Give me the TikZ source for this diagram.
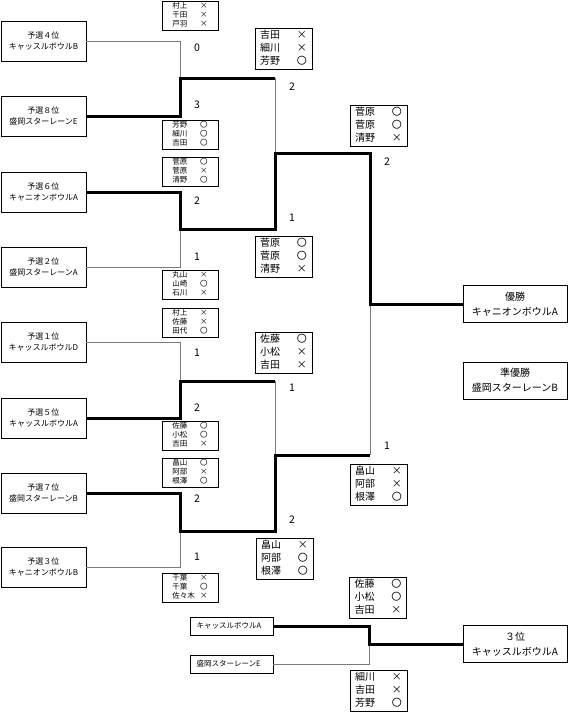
\documentclass[tikz,border=0pt]{standalone}
\usepackage{fontspec}
\setmainfont{Noto Sans CJK JP}
\usetikzlibrary{positioning, calc}
\definecolor{line-gray}{HTML}{7A7A7A}

\newcommand{\members}[6]{%
  \begin{tabular}{@{}p{3em}@{\hspace{0.7em}}c@{}}#1&#2\\#3&#4\\#5&#6\end{tabular}}

\tikzset{
  teambox/.style={draw, line width=0.8pt, minimum width=85pt, minimum height=40pt,
                  align=center, inner sep=1pt, font=\fontsize{8}{11}\selectfont},
  smallbox/.style={draw, line width=0.7pt, minimum width=56pt, minimum height=28pt,
                   inner sep=1pt, font=\fontsize{7.5}{9}\selectfont},
  bigbox/.style={draw, line width=0.8pt, minimum width=57pt, minimum height=40pt,
                 inner sep=1pt, font=\fontsize{10}{13}\selectfont},
  resultbox/.style={draw, line width=0.8pt, minimum width=104pt, minimum height=37pt,
                    align=center, inner sep=1pt, font=\fontsize{10}{15}\selectfont},
  thirdbox/.style={draw, line width=0.8pt, minimum width=83pt, minimum height=18pt,
                   text width=70pt, align=left, inner sep=1pt, font=\fontsize{7.5}{9}\selectfont},
  score/.style={font=\fontsize{10.5}{12}\selectfont},
  lose/.style={draw=line-gray, line width=0.9pt},
  win/.style={draw=black, line width=3pt},
}

\begin{document}
\begin{tikzpicture}[x=1pt, y=-1pt]
  \useasboundingbox (0,0) rectangle (568,712);

  % qualifying teams
  \node[teambox] (t4) at (43.5,41)  {予選４位\\キャッスルボウルB};
  \node[teambox] (t8) at (43.5,116) {予選８位\\盛岡スターレーンE};
  \node[teambox] (t6) at (43.5,192) {予選６位\\キャニオンボウルA};
  \node[teambox] (t2) at (43.5,267) {予選２位\\盛岡スターレーンA};
  \node[teambox] (t1) at (43.5,342) {予選１位\\キャッスルボウルD};
  \node[teambox] (t5) at (43.5,418) {予選５位\\キャッスルボウルA};
  \node[teambox] (t7) at (43.5,493) {予選７位\\盛岡スターレーンB};
  \node[teambox] (t3) at (43.5,567) {予選３位\\キャニオンボウルB};

  % junctions
  \coordinate (m1) at (180,78);
  \coordinate (m2) at (180,229);
  \coordinate (m3) at (180,381);
  \coordinate (m4) at (180,531);
  \coordinate (s1) at (275,153);
  \coordinate (s2) at (275,455);
  \coordinate (fin) at (370,304);
  \coordinate (bronze) at (369,644);

  % results
  \node[resultbox] (champ)  at (515,304)   {優勝\\キャニオンボウルA};
  \node[resultbox] (second) at (515,380.5) {準優勝\\盛岡スターレーンB};
  \node[resultbox] (third)  at (515,644)   {３位\\キャッスルボウルA};
  \node[thirdbox] (c1) at (231.5,626) {キャッスルボウルA};
  \node[thirdbox] (c2) at (231.5,664) {盛岡スターレーンE};

  % losing lines
  \draw[lose] (t4.east) -| (m1);
  \draw[lose] (m1 -| s1) -- (s1);
  \draw[lose] (t2.east) -| (m2);
  \draw[lose] (t1.east) -| (m3);
  \draw[lose] (m3 -| s2) -- (s2);
  \draw[lose] (t3.east) -| (m4);
  \draw[lose] (s2 -| fin) -- (fin);
  \draw[lose] (c2.east) -| (bronze);

  % winning lines
  \draw[win] (t8.east) -| (m1) -- (m1 -| s1);
  \draw[win] (t6.east) -| (m2) -| (s1) -| (fin) -- (champ.west);
  \draw[win] (t5.east) -| (m3) -- (m3 -| s2);
  \draw[win] (t7.east) -| (m4) -| (s2) -- (s2 -| fin);
  \draw[win] (c1.east) -| (bronze) -- (third.west);

  % first round members
  \node[smallbox] (p1a) at (190,16)    {\members{村上}{×}{千田}{×}{戸羽}{×}};
  \node[smallbox] (p1b) at (190,134.5) {\members{芳野}{〇}{細川}{〇}{吉田}{〇}};
  \node[smallbox] (p2a) at (190,171.5) {\members{菅原}{〇}{菅原}{×}{清野}{〇}};
  \node[smallbox] (p2b) at (190,285)   {\members{丸山}{×}{山崎}{〇}{石川}{×}};
  \node[smallbox] (p3a) at (190,323)   {\members{村上}{×}{佐藤}{×}{田代}{〇}};
  \node[smallbox] (p3b) at (190,436)   {\members{佐藤}{〇}{小松}{〇}{吉田}{×}};
  \node[smallbox] (p4a) at (190,473)   {\members{畠山}{〇}{阿部}{×}{根澤}{〇}};
  \node[smallbox] (p4b) at (190,587.5) {\members{千葉}{×}{千葉}{〇}{佐々木}{×}};

  % semi final members
  \node[bigbox] (q1a) at (283.5,49)  {\members{吉田}{×}{細川}{×}{芳野}{〇}};
  \node[bigbox] (q1b) at (283.5,257) {\members{菅原}{〇}{菅原}{〇}{清野}{×}};
  \node[bigbox] (q2a) at (283.5,353) {\members{佐藤}{〇}{小松}{×}{吉田}{×}};
  \node[bigbox] (q2b) at (284.5,559) {\members{畠山}{×}{阿部}{〇}{根澤}{〇}};

  % final and third place members
  \node[bigbox] (r1) at (378.5,126)   {\members{菅原}{〇}{菅原}{〇}{清野}{×}};
  \node[bigbox] (r2) at (378.5,485)   {\members{畠山}{×}{阿部}{×}{根澤}{〇}};
  \node[bigbox] (r3) at (378,598)     {\members{佐藤}{〇}{小松}{〇}{吉田}{×}};
  \node[bigbox] (r4) at (378.5,691)   {\members{細川}{×}{吉田}{×}{芳野}{〇}};

  % scores
  \node[score] (n1a) at (197,48)  {0};
  \node[score] (n1b) at (197,105) {3};
  \node[score] (n2a) at (197,201) {2};
  \node[score] (n2b) at (197,257) {1};
  \node[score] (n3a) at (197,353) {1};
  \node[score] (n3b) at (197,408) {2};
  \node[score] (n4a) at (197,499) {2};
  \node[score] (n4b) at (197,557) {1};
  \node[score] (k1a) at (292,87)  {2};
  \node[score] (k1b) at (292,218) {1};
  \node[score] (k2a) at (292,388) {1};
  \node[score] (k2b) at (292,520) {2};
  \node[score] (f1)  at (387,162) {2};
  \node[score] (f2)  at (387,446) {1};
\end{tikzpicture}
\end{document}
